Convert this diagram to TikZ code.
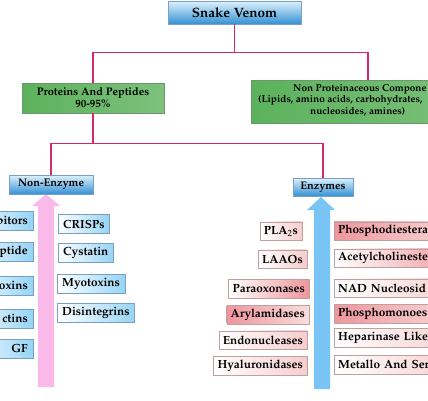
\documentclass[tikz,border=0pt]{standalone}
\usepackage[T1]{fontenc}
\usepackage{mathpazo}
\definecolor{linkred}{RGB}{214,38,110}
\definecolor{boxline}{RGB}{120,160,195}
\definecolor{venomlight}{RGB}{222,242,252}
\definecolor{venomdark}{RGB}{52,145,212}
\definecolor{greendark}{RGB}{92,178,92}
\definecolor{greenlight}{RGB}{222,244,216}
\definecolor{greenline}{RGB}{110,150,110}
\definecolor{smallblue}{RGB}{150,212,246}
\definecolor{palepink}{RGB}{246,205,205}
\definecolor{midpink}{RGB}{238,150,156}
\definecolor{pinkline}{RGB}{190,160,160}
\definecolor{arrowpink}{RGB}{249,186,234}
\definecolor{arrowblue}{RGB}{120,196,244}
\begin{document}
\begin{tikzpicture}[x=1pt, y=-1pt, font=\bfseries,
  link/.style={draw=linkred, line width=1.3pt},
  headbox/.style={draw=boxline, top color=venomlight, bottom color=venomdark,
    inner sep=2pt},
  groupbox/.style={draw=greenline, left color=greendark, middle color=greenlight,
    right color=greendark!80, align=center},
  itembox/.style={draw=boxline, left color=white, right color=smallblue,
    minimum height=19pt, inner xsep=5pt, inner ysep=2pt,
    font=\bfseries\fontsize{11.8}{13}\selectfont},
  enzlight/.style={draw=pinkline, left color=white, right color=palepink,
    minimum height=18.5pt, inner xsep=4pt, inner ysep=2pt,
    font=\bfseries\fontsize{11.8}{13}\selectfont},
  enzmid/.style={enzlight, right color=midpink},
  enzstrong/.style={enzlight, left color=midpink, right color=palepink!70}]
\useasboundingbox (0,0) rectangle (428,400);
\clip (0,0) rectangle (428,400);

% big arrows
\fill[arrowpink] (38,387) -- (38,206) -- (32,206) -- (46,194) -- (60,206)
  -- (54,206) -- (54,387) -- cycle;
\fill[arrowblue] (314,389) -- (314,210) -- (307,210) -- (321,197) -- (335,210)
  -- (330,210) -- (330,389) -- cycle;

% top levels
\node[headbox, minimum width=133pt, minimum height=23pt,
  font=\bfseries\fontsize{13.5}{15}\selectfont] (venom) at (234.5,12.5) {Snake Venom};
\node[groupbox, minimum width=142pt, minimum height=30pt, inner sep=1pt,
  font=\bfseries\fontsize{11}{12}\selectfont] (prot) at (93,98) {Proteins And Peptides\\90-95\%};
\node[groupbox, minimum width=234pt, minimum height=43pt] (nonprot) at (368,101.5) {};
\node[anchor=north west, align=left, inner sep=0pt,
  font=\bfseries\fontsize{10}{11.5}\selectfont] (nptext) at (258,84)
  {\hspace*{35pt}Non Proteinaceous Compone\\(Lipids, amino acids, carbohydrates,\\\hspace*{52pt}nucleosides, amines)};
\node[headbox, minimum width=84pt, minimum height=19pt,
  font=\bfseries\fontsize{11}{13}\selectfont] (nonenz) at (51,184.5) {Non-Enzyme};
\node[headbox, minimum width=60pt, minimum height=18pt,
  font=\bfseries\fontsize{11}{13}\selectfont] (enz) at (323,187) {Enzymes};

\draw[link] (venom.south) -- ++(0,28) coordinate (j1) -| (prot.north);
\draw[link] (j1) -| (nonprot.north);
\draw[link] (prot.south) -- ++(0,30) coordinate (j2) -| (nonenz.north);
\draw[link] (j2) -| (enz.north);

% non-enzyme items
\node[itembox, anchor=east, text width=60pt, align=right] (inhib) at (33,220.5) {bitors};
\node[itembox, anchor=east, text width=60pt, align=right] (pept) at (33,252) {ptide};
\node[itembox, anchor=east, text width=60pt, align=right] (toxins) at (33,285.5) {oxins};
\node[itembox, anchor=east, text width=60pt, align=right] (lectins) at (33,318.5) {ctins};
\node[itembox, anchor=east, text width=60pt, align=right] (egf) at (33,348.5) {GF};
\node[itembox, anchor=west] (crisp) at (58,224) {CRISPs};
\node[itembox, anchor=west] (cyst) at (58,253) {Cystatin};
\node[itembox, anchor=west] (myo) at (57,284) {Myotoxins};
\node[itembox, anchor=west] (disint) at (57,313) {Disintegrins};

% enzyme items
\node[enzlight, anchor=east] (pla) at (302,231) {PLA$_2$s};
\node[enzlight, anchor=east] (laao) at (307,259) {LAAOs};
\node[enzmid, anchor=east] (paraox) at (309,288.5) {Paraoxonases};
\node[enzstrong, anchor=east] (aryl) at (309,314.5) {Arylamidases};
\node[enzlight, anchor=east] (endo) at (307,340) {Endonucleases};
\node[enzlight, anchor=east] (hyal) at (307,365.5) {Hyaluronidases};
\node[enzstrong, anchor=west, text width=120pt, align=left] (pde) at (334,231) {Phosphodiestera};
\node[enzmid, anchor=west, text width=120pt, align=left] (ache) at (334,258) {Acetylcholineste};
\node[enzlight, anchor=west, text width=120pt, align=left] (nad) at (334,288) {NAD Nucleosid};
\node[enzstrong, anchor=west, text width=120pt, align=left] (pme) at (334,313.5) {Phosphomonoes};
\node[enzlight, anchor=west, text width=120pt, align=left] (hep) at (334,337.5) {Heparinase Like};
\node[enzlight, anchor=west, text width=120pt, align=left] (metal) at (334,364.5) {Metallo And Ser};
\end{tikzpicture}
\end{document}
